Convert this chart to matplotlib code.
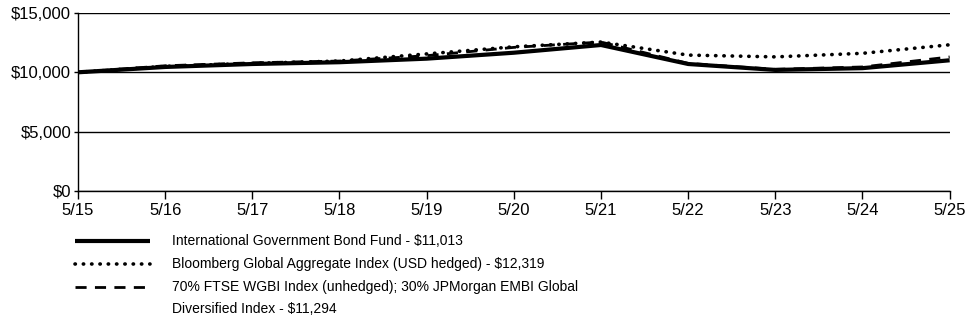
import matplotlib
matplotlib.use("Agg")
import matplotlib.pyplot as plt
from matplotlib.lines import Line2D
from matplotlib.ticker import FuncFormatter

plt.rcParams['font.family'] = ['Liberation Sans', 'DejaVu Sans']

# valeurs
dates = ['5/15', '5/16', '5/17', '5/18', '5/19', '5/20', '5/21', '5/22', '5/23', '5/24', '5/25']
fund = [10000, 10450, 10700, 10850, 11150, 11650, 12300, 10700, 10200, 10350, 11013]
bloomberg = [10000, 10500, 10750, 10950, 11550, 12150, 12550, 11450, 11300, 11600, 12319]
blend = [10000, 10550, 10800, 10950, 11400, 12100, 12550, 10750, 10250, 10450, 11294]

labels = ['International Government Bond Fund - $11,013',
          'Bloomberg Global Aggregate Index (USD hedged) - $12,319',
          '70% FTSE WGBI Index (unhedged); 30% JPMorgan EMBI Global\nDiversified Index - $11,294']

W, H = 975, 324
fig = plt.figure(figsize=(W / 100, H / 100), dpi=100)
ax = fig.add_axes([0.08, 0.4105, 0.894, 0.5495])

styles = [dict(lw=3, linestyle='-', solid_capstyle='butt'),
          dict(lw=2.6, linestyle=(0, (0.1, 2.2)), dash_capstyle='round'),
          dict(lw=2, linestyle=(0, (4, 3)))]

x = list(range(len(dates)))
for serie, st, z in zip([fund, bloomberg, blend], styles, [4, 3, 3]):
    ax.plot(x, serie, color='black', zorder=z, **st)

ax.set_xlim(0, len(dates) - 1)
ax.set_ylim(0, 15000)
ax.set_xticks(x)
ax.set_xticklabels(dates)
ax.set_yticks([0, 5000, 10000, 15000])
ax.yaxis.set_major_formatter(FuncFormatter(lambda v, p: f'${v:,.0f}'))
ax.grid(axis='y', color='black', lw=1)
ax.set_axisbelow(True)
for s in ['top', 'right']:
    ax.spines[s].set_visible(False)
for s in ['left', 'bottom']:
    ax.spines[s].set_linewidth(1)
ax.tick_params(axis='x', length=6, width=1, labelsize=12, pad=3)
ax.tick_params(axis='y', length=3, width=1, labelsize=12, pad=2)

# légende dessinée à la main (la 3e étiquette tient sur deux lignes)
rows = [241, 264, 287]
for lab, st, yy in zip(labels, styles, rows):
    fy = 1 - yy / H
    fig.add_artist(Line2D([75 / W, 150 / W], [fy, fy], color='black',
                          transform=fig.transFigure, **st))
    for i, ligne in enumerate(lab.split('\n')):
        fig.text(172 / W, 1 - (yy + 22 * i) / H, ligne, fontsize=10, va='center',
                 transform=fig.transFigure)

fig.savefig('out.png', dpi=100)
